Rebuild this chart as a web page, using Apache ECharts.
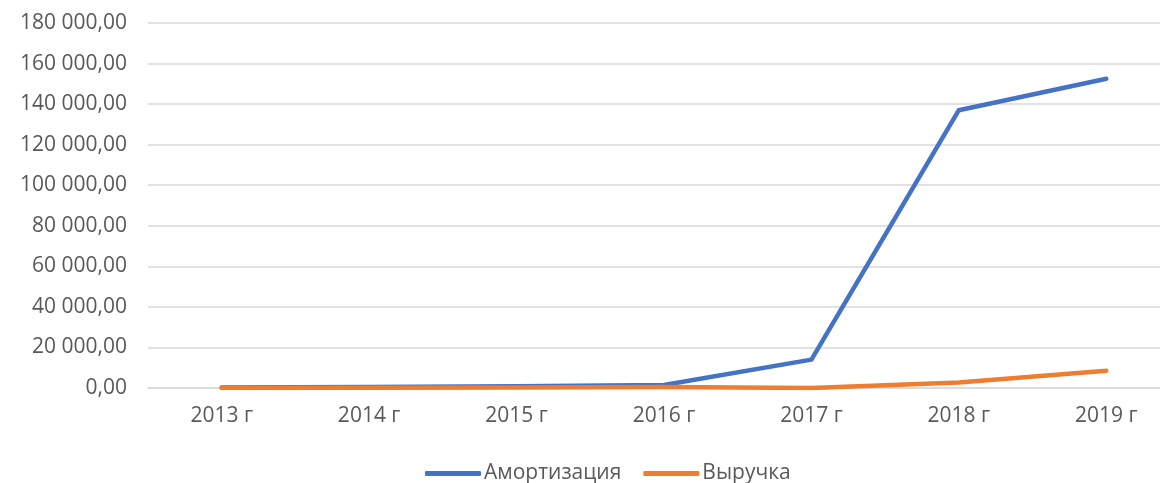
<!DOCTYPE html>
<html>
<head>
<meta charset="utf-8">
<script src="https://cdn.jsdelivr.net/npm/echarts@6/dist/echarts.min.js"></script>
<style>
html, body { margin: 0; padding: 0; background: #fff; }
#chart { width: 1160px; height: 483px; }
</style>
</head>
<body>
<div id="chart"></div>
<script>
// данные графика
var years = ['2013 г', '2014 г', '2015 г', '2016 г', '2017 г', '2018 г', '2019 г'];
var amort = [200, 500, 900, 1500, 14000, 137000, 152500]; // Амортизация
var revenue = [0, 100, 300, 500, 0, 2700, 8500]; // Выручка
var seriesNames = ['Амортизация', 'Выручка'];
var yMax = 180000;
var yStep = 20000;

function fmt_num(v) { // 180000 -> "180 000,00"
	var s = Math.round(v).toString().replace(/\B(?=(\d{3})+(?!\d))/g, ' ');
	return s + ',00';
}

var myChart = echarts.init(document.getElementById('chart'));

var textFont = 'Open Sans';
var textColor = '#595959';

var option = {
	backgroundColor: '#fff',
	animation: false,
	grid: {
		left: 148,
		top: 23,
		width: 1032,
		height: 365,
		outerBoundsMode: 'none'
	},
	legend: {
		left: 420,
		top: 458,
		itemWidth: 56,
		itemHeight: 5,
		itemGap: 22,
		icon: 'roundRect',
		textStyle: { fontFamily: textFont, fontSize: 21, color: textColor, padding: [0, 0, 0, -2] },
		data: seriesNames
	},
	xAxis: {
		type: 'category',
		boundaryGap: true,
		data: years,
		axisLine: { lineStyle: { color: '#d9d9d9', width: 1.5 } },
		axisTick: { show: false },
		axisLabel: { fontFamily: textFont, fontSize: 21, color: textColor, margin: 18 }
	},
	yAxis: {
		type: 'value',
		min: 0,
		max: yMax,
		interval: yStep,
		axisLine: { show: false },
		axisTick: { show: false },
		splitLine: { lineStyle: { color: '#d9d9d9', width: 1.5 } },
		axisLabel: {
			fontFamily: textFont, fontSize: 21, color: textColor, margin: 21,
			formatter: fmt_num
		}
	},
	series: [
		{
			name: seriesNames[0],
			type: 'line',
			data: amort,
			showSymbol: false,
			symbol: 'none',
			itemStyle: { color: '#4472C4' },
			lineStyle: { color: '#4472C4', width: 4.5, cap: 'round', join: 'round' }
		},
		{
			name: seriesNames[1],
			type: 'line',
			data: revenue,
			showSymbol: false,
			symbol: 'none',
			itemStyle: { color: '#ED7D31' },
			lineStyle: { color: '#ED7D31', width: 4.5, cap: 'round', join: 'round' }
		}
	]
};

myChart.setOption(option);
</script>
</body>
</html>
